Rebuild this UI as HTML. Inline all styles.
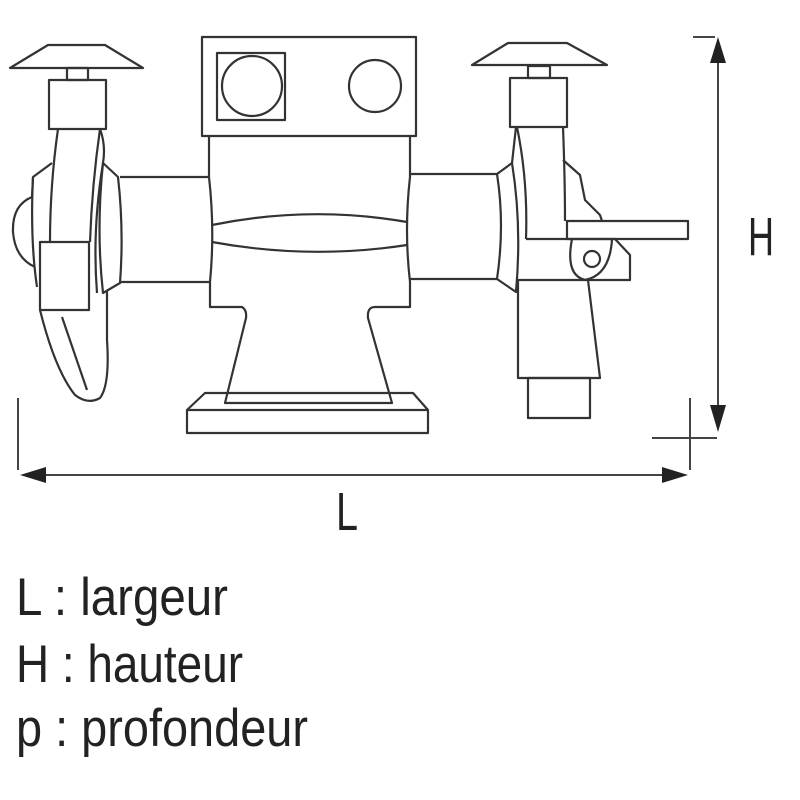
<!DOCTYPE html>
<html><head><meta charset="utf-8"><style>
html,body{margin:0;padding:0;background:#fff;width:800px;height:800px;overflow:hidden}
svg{display:block}
</style></head><body>
<svg width="800" height="800" viewBox="0 0 800 800" xmlns="http://www.w3.org/2000/svg">
<g fill="none" stroke="#333" stroke-width="2.2" stroke-linejoin="round">
<!-- left guard -->
<polygon points="48,45 105,45 143,68 10,68"/>
<rect x="67" y="68" width="21" height="12"/>
<rect x="49" y="80" width="57" height="49"/>
<path d="M58,129 Q50,185 50,242"/>
<path d="M100,129 Q92,185 90,242"/>
<path d="M100,129 Q106,145 103,163 Q92,230 97,293"/>
<path d="M103,163 L118,177 Q124,230 120,283 L103,293 Q96,230 103,163"/>
<path d="M52,163 L33,177 L32,197"/>
<path d="M32,197 Q12,205 13,232 Q15,258 35,267"/>
<path d="M33,177 Q30,240 37,287"/>
<rect x="40" y="242" width="49" height="68"/>
<path d="M40,310 Q55,370 75,395 Q88,405 100,398 Q110,385 107,340 L107,290"/>
<path d="M62,317 L87,390"/>
<!-- left shaft -->
<path d="M120,177 L209,177 M120,282 L209,282"/>
<!-- motor -->
<rect x="202" y="37" width="214" height="99"/>
<rect x="217" y="53" width="68" height="67"/>
<circle cx="252" cy="86" r="30"/>
<circle cx="375" cy="86" r="26"/>
<path d="M209,136 L209,177 Q215,230 210,282 L210,307 L242,307 Q247,310 246,318 L225,403 L392,403 L368,318 Q367,307 375,307 L410,307 L410,282 Q404,230 410,177 L410,136"/>
<path d="M212,225 Q310,205 407,222"/>
<path d="M212,242 Q310,260 407,245"/>
<path d="M205,393 L413,393 L428,410 L428,433 L187,433 L187,410 Z"/>
<path d="M187,410 L428,410"/>
<!-- right shaft -->
<path d="M410,174 L497,174 M410,279 L497,279"/>
<path d="M497,174 Q505,225 497,279"/>
<path d="M497,174 L512,163 Q522,225 516,292 L497,279"/>
<!-- right guard -->
<polygon points="508,43 567,43 607,65 472,65"/>
<rect x="528" y="66" width="22" height="12"/>
<rect x="510" y="78" width="57" height="49"/>
<path d="M516,127 L512,163"/>
<path d="M517,127 Q528,180 526,239"/>
<path d="M563,127 Q565,180 565,221"/>
<path d="M563,160 L580,175 L585,200 L600,215 L602,221"/>
<rect x="567" y="221" width="121" height="18"/>
<path d="M526,239 L615,239 L630,255 L630,280 L518,280"/>
<path d="M572,239 Q565,275 585,280 Q610,275 612,239"/>
<circle cx="592" cy="259" r="8"/>
<path d="M518,280 L518,378 L600,378 L588,280"/>
<rect x="528" y="378" width="62" height="40"/>
</g>
<!-- dimensions -->
<g stroke="#444" stroke-width="2" fill="none">
<path d="M693,37 L715,37"/>
<path d="M718,60 L718,410"/>
<path d="M652,438 L717,438"/>
<path d="M690,398 L690,470"/>
<path d="M18,398 L18,470"/>
<path d="M42,475 L665,475"/>
</g>
<g fill="#222">
<polygon points="718,37 710,63 726,63"/>
<polygon points="718,432 710,405 726,405"/>
<polygon points="20,475 46,467 46,483"/>
<polygon points="688,475 662,467 662,483"/>
</g>
<g font-family="'Liberation Sans', sans-serif" fill="#222">
<text x="748" y="255" font-size="54" textLength="26" lengthAdjust="spacingAndGlyphs">H</text>
<text x="336" y="530" font-size="54" textLength="22" lengthAdjust="spacingAndGlyphs">L</text>
<text x="16" y="615" font-size="53" textLength="212" lengthAdjust="spacingAndGlyphs">L : largeur</text>
<text x="16" y="682" font-size="53" textLength="227" lengthAdjust="spacingAndGlyphs">H : hauteur</text>
<text x="16" y="746" font-size="53" textLength="292" lengthAdjust="spacingAndGlyphs">p : profondeur</text>
</g>
</svg>
</body></html>
